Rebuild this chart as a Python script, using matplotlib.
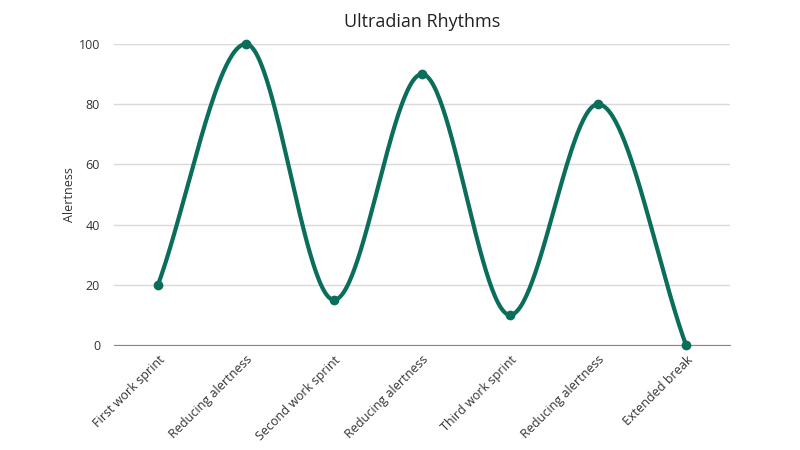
import numpy as np
import matplotlib
matplotlib.use("Agg")
import matplotlib.pyplot as plt

categories = ["First work sprint", "Reducing alertness", "Second work sprint",
              "Reducing alertness", "Third work sprint", "Reducing alertness",
              "Extended break"]
alertness = [20, 100, 15, 90, 10, 80, 0]
y_ticks = [0, 20, 40, 60, 80, 100]

plt.rcParams['font.family'] = ['Open Sans', 'DejaVu Sans']

def monotone_curve(y, n=60):
    y = np.asarray(y, float)
    x = np.arange(len(y), dtype=float)
    d = np.diff(y)
    m = np.zeros_like(y)
    m[0] = d[0]
    m[-1] = d[-1]
    for i in range(1, len(y) - 1):
        if d[i - 1] * d[i] <= 0:
            m[i] = 0
        else:
            m[i] = (d[i - 1] + d[i]) / 2
    xs, ys = [], []
    for i in range(len(y) - 1):
        t = np.linspace(0, 1, n)
        h00 = 2 * t**3 - 3 * t**2 + 1
        h10 = t**3 - 2 * t**2 + t
        h01 = -2 * t**3 + 3 * t**2
        h11 = t**3 - t**2
        xs.append(x[i] + t)
        ys.append(h00 * y[i] + h10 * m[i] + h01 * y[i + 1] + h11 * m[i + 1])
    return np.concatenate(xs), np.concatenate(ys)

fig = plt.figure(figsize=(8, 4.5), dpi=100)
ax = fig.add_axes([0.1425, 0.2333, 0.77, 0.6689])
color = "#0b6e5a"
cx, cy = monotone_curve(alertness)
ax.plot(cx, cy, color=color, lw=3, clip_on=False, zorder=3, solid_capstyle="round")
ax.plot(range(len(alertness)), alertness, "o", color=color, ms=6, clip_on=False, zorder=4)

ax.set_xlim(-0.5, len(categories) - 0.5)
ax.set_ylim(0, 100)
ax.set_yticks(y_ticks)
ax.set_xticks(range(len(categories)))
ax.set_xticklabels(categories, rotation=45, ha="right", rotation_mode="anchor",
                   fontsize=9, color="#333333")
ax.tick_params(axis="y", labelsize=9, labelcolor="#333333", length=0, pad=10)
ax.tick_params(axis="x", length=0, pad=6)
ax.grid(axis="y", color="#d9d9d9", lw=1)
ax.set_axisbelow(True)
for s in ["top", "right", "left"]:
    ax.spines[s].set_visible(False)
ax.spines["bottom"].set_color("#888888")
ax.set_ylabel("Alertness", fontsize=9, color="#333333", labelpad=2)
ax.set_xlabel("Time", fontsize=9, color="#333333", labelpad=8)
ax.set_title("Ultradian Rhythms", fontsize=13, color="#222222", pad=12)

fig.savefig("out.png", dpi=100)
